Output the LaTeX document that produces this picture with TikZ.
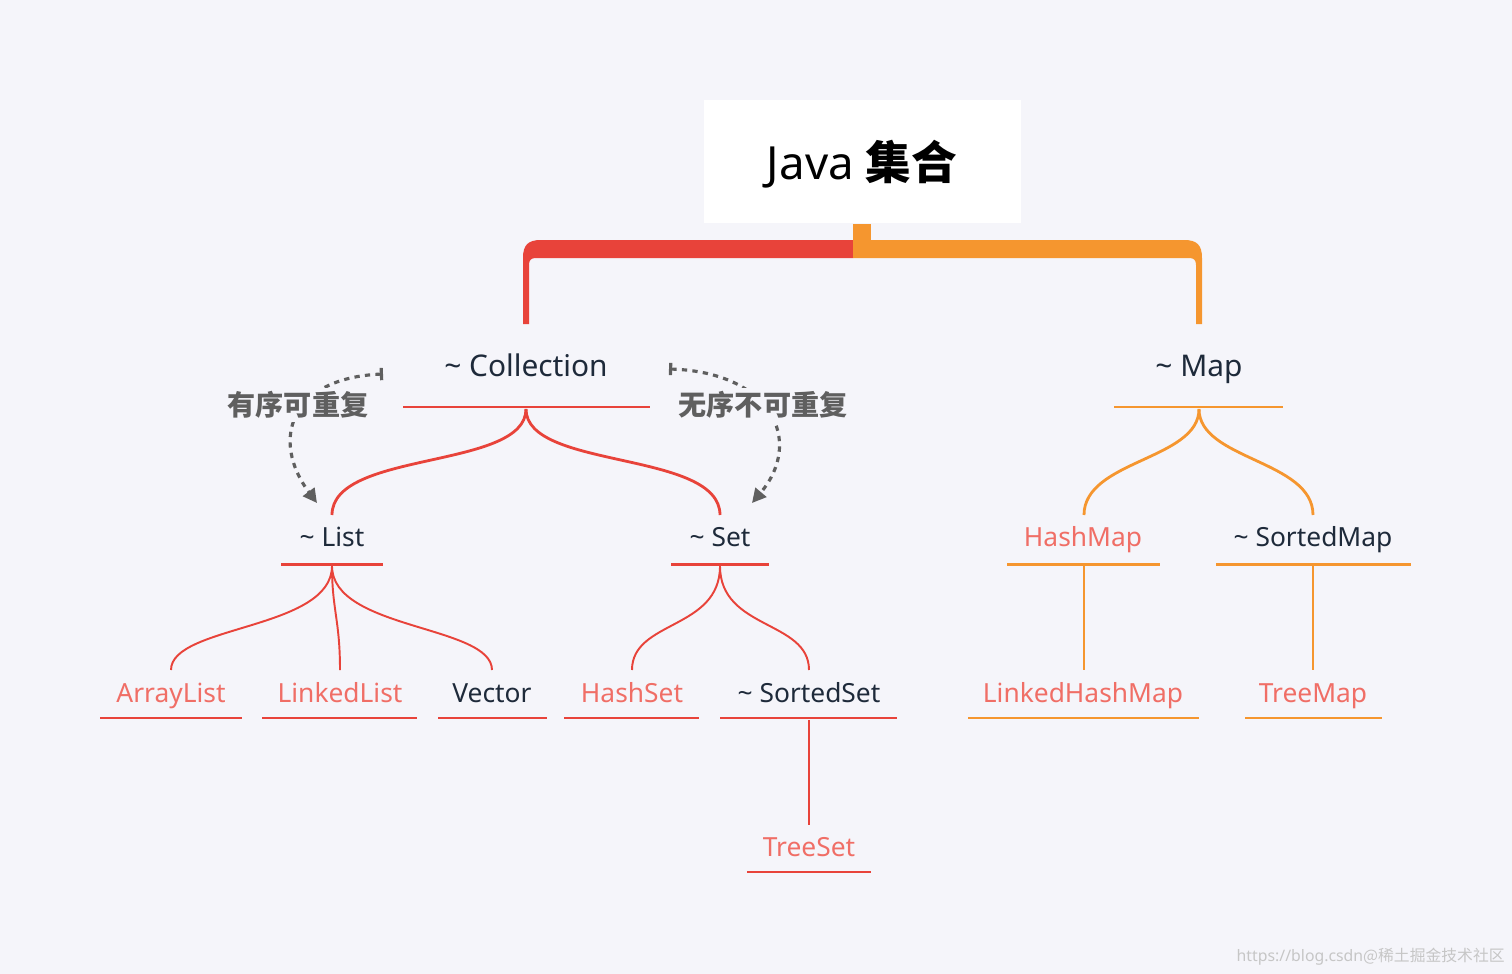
\documentclass[tikz,border=0pt]{standalone}
\usepackage{fontspec}
\setmainfont{Noto Sans}
\newfontfamily\cjk{Noto Sans CJK SC}
\usetikzlibrary{arrows.meta}
\definecolor{bg}{HTML}{F5F5FA}
\definecolor{rd}{HTML}{E8433A}
\definecolor{og}{HTML}{F5962F}
\definecolor{pk}{HTML}{F06E66}
\definecolor{dk}{HTML}{1E2A3A}
\definecolor{gy}{HTML}{5F5F5F}
\begin{document}
\begin{tikzpicture}[x=0.02cm,y=-0.02cm,
  lbl/.style={inner sep=0pt,anchor=base,font=\fontsize{17}{20}\selectfont,text=dk},
  sub/.style={inner sep=0pt,anchor=base,font=\fontsize{15}{18}\selectfont},
  ul/.style={line width=1.7pt},
  br/.style={line width=1.1pt},
  note/.style={inner sep=2pt,fill=bg,text=gy,font=\cjk\bfseries\fontsize{16}{19}\selectfont},
  dsh/.style={gy,line width=1.8pt,dash pattern=on 3pt off 3pt,{Bar[width=7pt]}-{Triangle[length=8pt,width=8pt]}}]
\fill[bg] (0,0) rectangle (1512,974);
\useasboundingbox (0,0) rectangle (1512,974);
% title
\fill[white] (704,100) rectangle (1021,223);
\node[inner sep=0pt,anchor=base,font=\fontsize{26}{30}\selectfont] (title) at (862,179) {Java {\cjk\bfseries 集合}};
% top connector
\fill[og] (853,224) rectangle (871,250);
\fill[rd] (523,324) -- (523,258) .. controls (523,245) and (528,240) .. (541,240) -- (853,240) -- (853,258) -- (536,258) .. controls (531,258) and (529,260) .. (529,265) -- (529,324) -- cycle;
\fill[og] (1202,324) -- (1202,258) .. controls (1202,245) and (1197,240) .. (1184,240) -- (853,240) -- (853,258) -- (1189,258) .. controls (1194,258) and (1196,260) .. (1196,265) -- (1196,324) -- cycle;
% level 1
\node[lbl] (coll) at (526,376) {\~{} Collection};
\draw[rd,ul] (403,407)--(650,407);
\coordinate (cb) at (526,409);
\node[lbl] (map) at (1199,376) {\~{} Map};
\draw[og,ul] (1114,407)--(1283,407);
\coordinate (mb) at (1199,409);
% level 2
\node[sub,text=dk] (list) at (332,546) {\~{} List};
\draw[rd,ul] (281,564)--(383,564);
\coordinate (lt) at (332,515); \coordinate (lb) at (332,566);
\node[sub,text=dk] (set) at (720,546) {\~{} Set};
\draw[rd,ul] (671,564)--(769,564);
\coordinate (st) at (720,515); \coordinate (sb) at (720,566);
\node[sub,text=pk] (hm) at (1083,546) {HashMap};
\draw[og,ul] (1007,564)--(1160,564);
\coordinate (hmt) at (1084,515); \coordinate (hmb) at (1084,566);
\node[sub,text=dk] (sm) at (1313,546) {\~{} SortedMap};
\draw[og,ul] (1216,564)--(1411,564);
\coordinate (smt) at (1313,515); \coordinate (smb) at (1313,566);
\draw[rd,line width=1.6pt] (cb) .. controls (526,470) and (332,450) .. (lt);
\draw[rd,line width=1.6pt] (cb) .. controls (526,470) and (720,450) .. (st);
\draw[og,line width=1.6pt] (mb) .. controls (1199,460) and (1084,460) .. (hmt);
\draw[og,line width=1.6pt] (mb) .. controls (1199,460) and (1313,460) .. (smt);
% level 3
\node[sub,text=pk] (al) at (171,702) {ArrayList};
\draw[rd,br] (100,718)--(242,718); \coordinate (alt) at (171,670);
\node[sub,text=pk] (ll) at (340,702) {LinkedList};
\draw[rd,br] (262,718)--(417,718); \coordinate (llt) at (340,670);
\node[sub,text=dk] (vec) at (492,702) {Vector};
\draw[rd,br] (438,718)--(547,718); \coordinate (vt) at (492,670);
\node[sub,text=pk] (hs) at (632,702) {HashSet};
\draw[rd,br] (564,718)--(699,718); \coordinate (hst) at (632,670);
\node[sub,text=dk] (ss) at (809,702) {\~{} SortedSet};
\draw[rd,br] (720,718)--(897,718); \coordinate (sst) at (809,670); \coordinate (ssb) at (809,720);
\node[sub,text=pk] (ts) at (809,856) {TreeSet};
\draw[rd,br] (747,872)--(871,872); \coordinate (tst) at (809,825);
\node[sub,text=pk] (lhm) at (1083,702) {LinkedHashMap};
\draw[og,br] (968,718)--(1199,718); \coordinate (lhmt) at (1084,670);
\node[sub,text=pk] (tm) at (1313,702) {TreeMap};
\draw[og,br] (1245,718)--(1382,718); \coordinate (tmt) at (1313,670);
\draw[rd,br] (lb) .. controls (332,630) and (171,625) .. (alt);
\draw[rd,br] (lb) .. controls (332,610) and (340,620) .. (llt);
\draw[rd,br] (lb) .. controls (332,630) and (492,625) .. (vt);
\draw[rd,br] (sb) .. controls (720,630) and (632,620) .. (hst);
\draw[rd,br] (sb) .. controls (720,630) and (809,620) .. (sst);
\draw[rd,br] (ssb)--(tst);
\draw[og,br] (hmb)--(lhmt);
\draw[og,br] (smb)--(tmt);
% dashed notes
\coordinate (n1s) at (383,374); \coordinate (n1e) at (317,503);
\coordinate (n2s) at (669,369); \coordinate (n2e) at (752,503);
\draw[dsh] (n1s) .. controls (290,378) and (270,440) .. (n1e);
\draw[dsh] (n2s) .. controls (770,372) and (805,440) .. (n2e);
\node[note] (o1) at (298,405) {有序可重复};
\node[note] (o2) at (763,405) {无序不可重复};
% watermark
\node[inner sep=0pt,anchor=east,text=gray!45,font=\fontsize{9}{11}\selectfont] (wm) at (1505,957) {https://blog.csdn{\cjk @稀土掘金技术社区}};
\end{tikzpicture}
\end{document}
